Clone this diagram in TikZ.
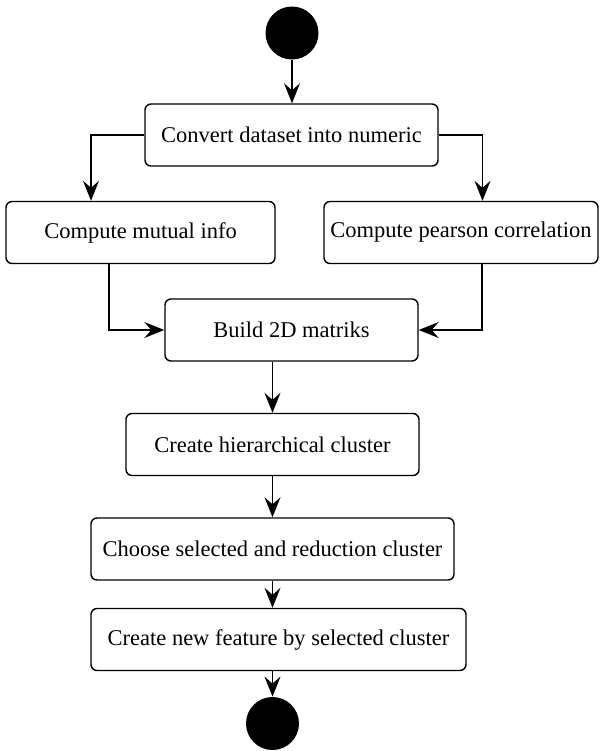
\documentclass[tikz,border=0pt]{standalone}
\usepackage{fontspec}
\setmainfont{Liberation Serif}
\usetikzlibrary{arrows.meta}

\begin{document}
\begin{tikzpicture}[
        x=0.5pt, y=-0.5pt,
        dot/.style={circle, fill=black, minimum size=26.5pt, inner sep=0pt},
        activity/.style={draw=black, line width=0.7pt, rounded corners=3pt, inner sep=0pt,
                         minimum height=31pt, font=\fontsize{11.25}{13}\selectfont},
        flow/.style={line width=0.7pt, draw=black, -{Stealth[length=10pt, width=8pt, inset=3.5pt]}}
    ]

        \useasboundingbox (0,0) rectangle (600,751);

        \node[dot] (start) at (292, 33) {};

        \node[activity, minimum width=146.5pt] (convert) at (291.5, 135) {Convert dataset into numeric};

        \node[activity, minimum width=134.5pt] (mutual) at (140.5, 232.5) {Compute mutual info};
        \node[activity, minimum width=137pt] (pearson) at (461, 232.5) {Compute pearson correlation};

        \node[activity, minimum width=126.5pt] (matrix) at (291.5, 330) {Build 2D matriks};

        \node[activity, minimum width=146.5pt] (hcluster) at (272.5, 444.5) {Create hierarchical cluster};

        \node[activity, minimum width=181.5pt] (choose) at (272.5, 549) {Choose selected and reduction cluster};

        \node[activity, minimum width=187.5pt] (feature) at (278.5, 639.5) {Create new feature by selected cluster};

        \node[dot] (finish) at (272.5, 723.5) {};

        \draw[flow] (start) -- (start |- convert.north);
        \draw[flow] (convert.west) -| ([xshift=-24.75pt]mutual.north);
        \draw[flow] (convert.east) -| ([xshift=10.75pt]pearson.north);
        \draw[flow] ([xshift=-15.75pt]mutual.south) |- (matrix.west);
        \draw[flow] ([xshift=10.5pt]pearson.south) |- (matrix.east);
        \draw[flow] (matrix.south -| hcluster.north) -- (hcluster.north);
        \draw[flow] (hcluster) -- (choose);
        \draw[flow] (choose.south) -- (choose.south |- feature.north);
        \draw[flow] (feature.south -| finish.north) -- (finish);

    \end{tikzpicture}
\end{document}
